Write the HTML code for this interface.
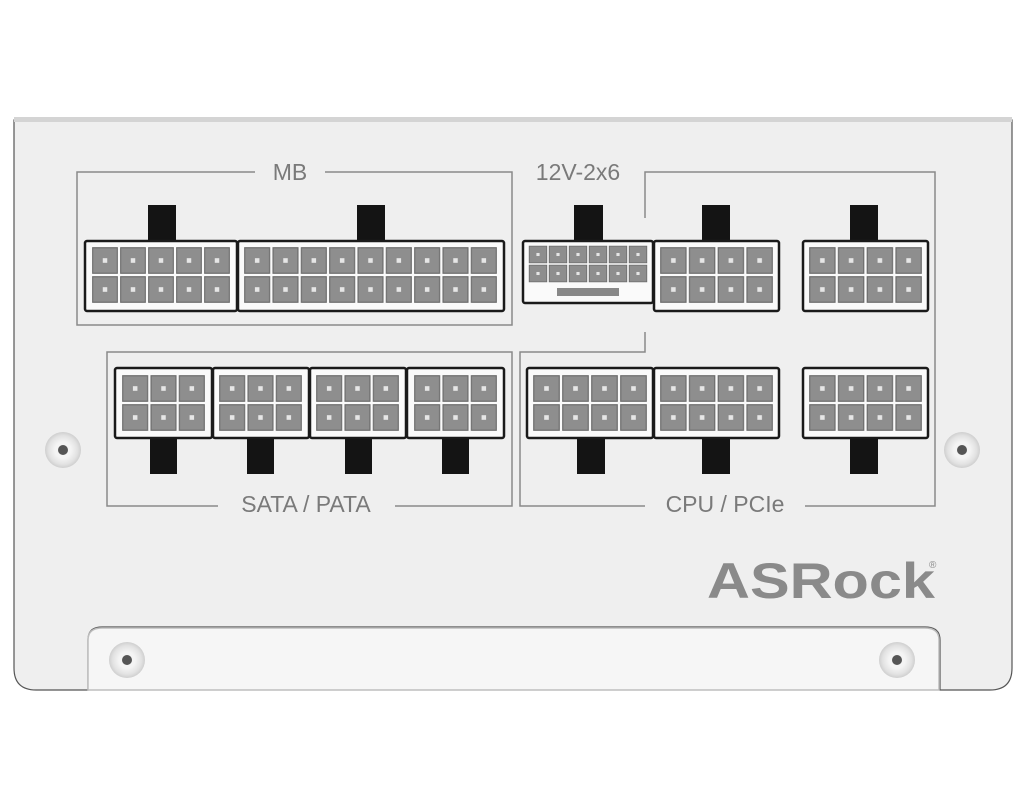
<!DOCTYPE html>
<html><head><meta charset="utf-8"><style>
html,body{margin:0;padding:0;background:#fff;}
svg{display:block}
text{font-family:"Liberation Sans",sans-serif;}
</style></head><body>
<svg width="1024" height="800" viewBox="0 0 1024 800" xmlns="http://www.w3.org/2000/svg">
<defs>
<pattern id="pin" width="10" height="10" patternUnits="userSpaceOnUse">
<rect x="0.6" y="0.6" width="8.8" height="8.8" fill="#8e8e8e" stroke="#6a6a6a" stroke-width="0.4"/>
<rect x="4.2" y="4.2" width="1.6" height="1.6" fill="#e6e6e6"/>
</pattern>
<radialGradient id="scr" cx="0.5" cy="0.5" r="0.5">
<stop offset="0.45" stop-color="#f4f4f4"/><stop offset="0.8" stop-color="#e2e2e2"/><stop offset="1" stop-color="#cfcfcf"/>
</radialGradient>
</defs>
<rect width="1024" height="800" fill="#fff"/>
<path d="M14 120 L1012 120 L1012 668 Q1012 690 990 690 L940 690 L940 640 Q940 627 925 627 L102 627 Q88 627 88 640 L88 690 L36 690 Q14 690 14 668 Z" fill="#efefef" stroke="#555" stroke-width="1.2"/>
<rect x="14" y="117" width="998" height="5" fill="#d4d4d4"/>
<path d="M88 690 L88 640 Q88 628 102 628 L925 628 Q939 628 939 640 L939 690 Z" fill="#f6f6f6" stroke="#bdbdbd" stroke-width="1.5"/>
<g fill="none" stroke="#8a8a8a" stroke-width="1.5">
<path d="M255 172 L77 172 L77 325 L512 325 L512 172 L325 172"/>
<path d="M645 218 L645 172 L935 172 L935 506 L805 506 M645 506 L520 506 L520 352 L645 352 L645 332"/>
<path d="M218 506 L107 506 L107 352 L512 352 L512 506 L395 506"/>
</g>
<g fill="#7a7a7a" font-size="23">
<text x="290" y="180" text-anchor="middle">MB</text>
<text x="578" y="180" text-anchor="middle">12V-2x6</text>
<text x="306" y="512" text-anchor="middle">SATA / PATA</text>
<text x="725" y="512" text-anchor="middle">CPU / PCIe</text>
</g>
<g fill="#141414">
<rect x="148" y="205" width="28" height="37"/><rect x="357" y="205" width="28" height="37"/>
<rect x="574" y="205" width="29" height="37"/><rect x="702" y="205" width="28" height="37"/><rect x="850" y="205" width="28" height="37"/>
<rect x="150" y="435" width="27" height="39"/><rect x="247" y="435" width="27" height="39"/><rect x="345" y="435" width="27" height="39"/><rect x="442" y="435" width="27" height="39"/>
<rect x="577" y="435" width="28" height="39"/><rect x="702" y="435" width="28" height="39"/><rect x="850" y="435" width="28" height="39"/>
</g>
<g fill="#fafafa" stroke="#1a1a1a" stroke-width="2.5">
<rect x="85" y="241" width="152" height="70" rx="2"/>
<rect x="238" y="241" width="266" height="70" rx="2"/>
<rect x="523" y="241" width="130" height="62" rx="2"/>
<rect x="654" y="241" width="125" height="70" rx="2"/>
<rect x="803" y="241" width="125" height="70" rx="2"/>
<rect x="115" y="368" width="97" height="70" rx="2"/>
<rect x="213" y="368" width="96" height="70" rx="2"/>
<rect x="310" y="368" width="96" height="70" rx="2"/>
<rect x="407" y="368" width="97" height="70" rx="2"/>
<rect x="527" y="368" width="126" height="70" rx="2"/>
<rect x="654" y="368" width="125" height="70" rx="2"/>
<rect x="803" y="368" width="125" height="70" rx="2"/>
</g>
<svg x="91" y="246" width="140" height="58" viewBox="0 0 50 20" preserveAspectRatio="none"><rect width="50" height="20" fill="url(#pin)"/></svg>
<svg x="243" y="246" width="255" height="58" viewBox="0 0 90 20" preserveAspectRatio="none"><rect width="90" height="20" fill="url(#pin)"/></svg>
<svg x="528" y="245" width="120" height="38" viewBox="0 0 60 20" preserveAspectRatio="none"><rect width="60" height="20" fill="url(#pin)"/></svg>
<rect x="557" y="288" width="62" height="8" fill="#888"/>
<svg x="659" y="246" width="115" height="58" viewBox="0 0 40 20" preserveAspectRatio="none"><rect width="40" height="20" fill="url(#pin)"/></svg>
<svg x="808" y="246" width="115" height="58" viewBox="0 0 40 20" preserveAspectRatio="none"><rect width="40" height="20" fill="url(#pin)"/></svg>
<svg x="121" y="374" width="85" height="58" viewBox="0 0 30 20" preserveAspectRatio="none"><rect width="30" height="20" fill="url(#pin)"/></svg>
<svg x="218" y="374" width="85" height="58" viewBox="0 0 30 20" preserveAspectRatio="none"><rect width="30" height="20" fill="url(#pin)"/></svg>
<svg x="315" y="374" width="85" height="58" viewBox="0 0 30 20" preserveAspectRatio="none"><rect width="30" height="20" fill="url(#pin)"/></svg>
<svg x="413" y="374" width="85" height="58" viewBox="0 0 30 20" preserveAspectRatio="none"><rect width="30" height="20" fill="url(#pin)"/></svg>
<svg x="532" y="374" width="116" height="58" viewBox="0 0 40 20" preserveAspectRatio="none"><rect width="40" height="20" fill="url(#pin)"/></svg>
<svg x="659" y="374" width="115" height="58" viewBox="0 0 40 20" preserveAspectRatio="none"><rect width="40" height="20" fill="url(#pin)"/></svg>
<svg x="808" y="374" width="115" height="58" viewBox="0 0 40 20" preserveAspectRatio="none"><rect width="40" height="20" fill="url(#pin)"/></svg>
<g>
<circle cx="63" cy="450" r="18" fill="url(#scr)"/><circle cx="63" cy="450" r="5" fill="#555"/>
<circle cx="962" cy="450" r="18" fill="url(#scr)"/><circle cx="962" cy="450" r="5" fill="#555"/>
<circle cx="127" cy="660" r="18" fill="url(#scr)"/><circle cx="127" cy="660" r="5" fill="#555"/>
<circle cx="897" cy="660" r="18" fill="url(#scr)"/><circle cx="897" cy="660" r="5" fill="#555"/>
</g>
<text x="707" y="598" font-size="50" font-weight="bold" fill="#8a8a8a" textLength="228" lengthAdjust="spacingAndGlyphs">ASRock</text>
<text x="929" y="568" font-size="10" fill="#8a8a8a">®</text>
</svg>
</body></html>
